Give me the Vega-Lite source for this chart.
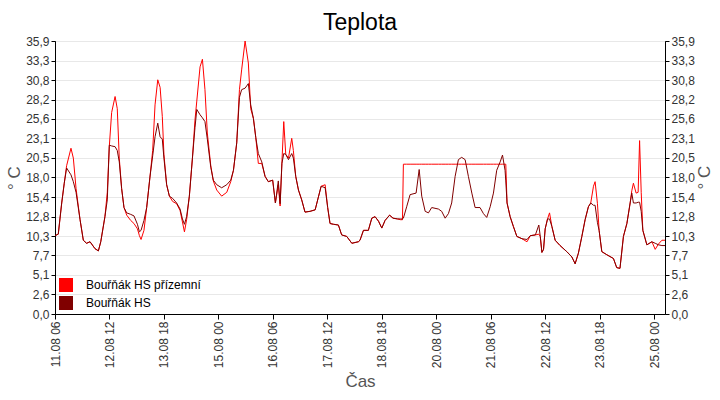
{
  "$schema": "https://vega.github.io/schema/vega-lite/v6.json",
  "autosize": {"type": "none"},
  "width": 610,
  "height": 273,
  "padding": {"left": 55, "top": 41, "right": 55, "bottom": 86},
  "background": "white",
  "config": {
    "view": {"stroke": "black", "strokeWidth": 1},
    "font": "Liberation Sans",
    "axis": {
      "domainColor": "black",
      "tickColor": "black",
      "tickSize": 4,
      "labelColor": "#333333",
      "labelFont": "Liberation Sans",
      "labelFontSize": 12,
      "titleFont": "Liberation Sans",
      "titleFontSize": 17,
      "titleFontWeight": "normal",
      "titleColor": "#555555",
      "gridColor": "#e8e8e8"
    },
    "legend": {
      "labelFont": "Liberation Sans",
      "labelFontSize": 12,
      "labelColor": "black"
    }
  },
  "title": {
    "text": "Teplota",
    "fontSize": 23,
    "fontWeight": "normal",
    "font": "Liberation Sans",
    "color": "black",
    "anchor": "middle",
    "offset": 0
  },
  "data": {
    "values": [
      {"t": "2023-08-11T06:00", "p": 10.3, "h": 10.3},
      {"t": "2023-08-11T07:48", "p": 10.5, "h": 10.5},
      {"t": "2023-08-11T09:42", "p": 14.6, "h": 14.6},
      {"t": "2023-08-11T11:06", "p": 17.2, "h": 17.2},
      {"t": "2023-08-11T12:24", "p": 19.5, "h": 19.2},
      {"t": "2023-08-11T14:48", "p": 21.8, "h": 18.3},
      {"t": "2023-08-11T16:06", "p": 20.5, "h": 17.4},
      {"t": "2023-08-11T17:36", "p": 16.5, "h": 16.0},
      {"t": "2023-08-11T19:48", "p": 12.4, "h": 12.4},
      {"t": "2023-08-11T21:36", "p": 9.7, "h": 9.7},
      {"t": "2023-08-11T23:24", "p": 9.3, "h": 9.3},
      {"t": "2023-08-12T01:18", "p": 9.5, "h": 9.5},
      {"t": "2023-08-12T04:00", "p": 8.6, "h": 8.6},
      {"t": "2023-08-12T05:54", "p": 8.3, "h": 8.3},
      {"t": "2023-08-12T07:12", "p": 9.5, "h": 9.5},
      {"t": "2023-08-12T09:30", "p": 12.8, "h": 12.8},
      {"t": "2023-08-12T10:48", "p": 16.0, "h": 15.0},
      {"t": "2023-08-12T11:54", "p": 22.0, "h": 22.2},
      {"t": "2023-08-12T13:12", "p": 26.5, "h": 22.1},
      {"t": "2023-08-12T15:06", "p": 28.6, "h": 22.0},
      {"t": "2023-08-12T16:18", "p": 27.0, "h": 21.5},
      {"t": "2023-08-12T17:24", "p": 20.5, "h": 20.0},
      {"t": "2023-08-12T18:42", "p": 16.5, "h": 16.5},
      {"t": "2023-08-12T20:00", "p": 14.0, "h": 14.0},
      {"t": "2023-08-12T21:30", "p": 13.0, "h": 13.3},
      {"t": "2023-08-12T23:42", "p": 12.3, "h": 13.1},
      {"t": "2023-08-13T01:30", "p": 11.9, "h": 12.9},
      {"t": "2023-08-13T03:24", "p": 11.2, "h": 11.8},
      {"t": "2023-08-13T04:30", "p": 10.3, "h": 10.8},
      {"t": "2023-08-13T05:24", "p": 9.8, "h": 11.0},
      {"t": "2023-08-13T07:00", "p": 11.0, "h": 12.3},
      {"t": "2023-08-13T08:30", "p": 14.0, "h": 14.0},
      {"t": "2023-08-13T10:18", "p": 18.0, "h": 18.0},
      {"t": "2023-08-13T11:48", "p": 21.5, "h": 20.8},
      {"t": "2023-08-13T13:06", "p": 27.5, "h": 23.3},
      {"t": "2023-08-13T14:36", "p": 30.8, "h": 25.1},
      {"t": "2023-08-13T15:54", "p": 29.8, "h": 23.3},
      {"t": "2023-08-13T17:06", "p": 26.0, "h": 23.0},
      {"t": "2023-08-13T18:00", "p": 21.0, "h": 20.5},
      {"t": "2023-08-13T19:30", "p": 17.0, "h": 17.0},
      {"t": "2023-08-13T21:00", "p": 15.5, "h": 15.5},
      {"t": "2023-08-13T22:48", "p": 14.8, "h": 15.2},
      {"t": "2023-08-14T01:00", "p": 14.5, "h": 14.6},
      {"t": "2023-08-14T02:54", "p": 13.6, "h": 13.8},
      {"t": "2023-08-14T04:12", "p": 12.1, "h": 12.5},
      {"t": "2023-08-14T05:18", "p": 10.8, "h": 11.8},
      {"t": "2023-08-14T06:30", "p": 12.4, "h": 12.8},
      {"t": "2023-08-14T08:00", "p": 15.5, "h": 15.5},
      {"t": "2023-08-14T09:42", "p": 20.5, "h": 20.5},
      {"t": "2023-08-14T11:06", "p": 25.5, "h": 24.5},
      {"t": "2023-08-14T12:06", "p": 28.0, "h": 26.9},
      {"t": "2023-08-14T13:54", "p": 32.5, "h": 26.2},
      {"t": "2023-08-14T15:12", "p": 33.5, "h": 25.8},
      {"t": "2023-08-14T16:36", "p": 29.5, "h": 25.3},
      {"t": "2023-08-14T17:54", "p": 23.8, "h": 23.0},
      {"t": "2023-08-14T19:48", "p": 19.5, "h": 19.3},
      {"t": "2023-08-14T21:12", "p": 17.5, "h": 17.6},
      {"t": "2023-08-14T23:06", "p": 16.3, "h": 17.0},
      {"t": "2023-08-15T01:48", "p": 15.5, "h": 16.6},
      {"t": "2023-08-15T04:36", "p": 16.0, "h": 17.0},
      {"t": "2023-08-15T06:48", "p": 17.4, "h": 17.6},
      {"t": "2023-08-15T08:18", "p": 18.9, "h": 18.9},
      {"t": "2023-08-15T10:06", "p": 22.5, "h": 22.5},
      {"t": "2023-08-15T11:36", "p": 29.5, "h": 28.5},
      {"t": "2023-08-15T12:48", "p": 32.1, "h": 29.5},
      {"t": "2023-08-15T14:42", "p": 35.9, "h": 29.7},
      {"t": "2023-08-15T16:30", "p": 33.0, "h": 30.3},
      {"t": "2023-08-15T17:48", "p": 27.0, "h": 27.5},
      {"t": "2023-08-15T19:18", "p": 25.7, "h": 25.7},
      {"t": "2023-08-15T20:36", "p": 23.2, "h": 23.2},
      {"t": "2023-08-15T22:00", "p": 19.8, "h": 21.1},
      {"t": "2023-08-15T23:54", "p": 19.8, "h": 20.0},
      {"t": "2023-08-16T01:42", "p": 18.1, "h": 18.1},
      {"t": "2023-08-16T03:30", "p": 17.4, "h": 17.4},
      {"t": "2023-08-16T05:54", "p": 17.6, "h": 17.6},
      {"t": "2023-08-16T07:24", "p": 14.6, "h": 14.6},
      {"t": "2023-08-16T09:00", "p": 17.0, "h": 17.5},
      {"t": "2023-08-16T10:00", "p": 14.2, "h": 14.5},
      {"t": "2023-08-16T11:00", "p": 20.0, "h": 19.8},
      {"t": "2023-08-16T12:00", "p": 25.3, "h": 21.1},
      {"t": "2023-08-16T13:06", "p": 21.0, "h": 21.0},
      {"t": "2023-08-16T14:36", "p": 20.5, "h": 20.3},
      {"t": "2023-08-16T16:24", "p": 23.1, "h": 21.1},
      {"t": "2023-08-16T17:18", "p": 21.5, "h": 20.5},
      {"t": "2023-08-16T18:36", "p": 18.1, "h": 18.1},
      {"t": "2023-08-16T20:06", "p": 16.3, "h": 16.3},
      {"t": "2023-08-16T21:54", "p": 15.0, "h": 15.0},
      {"t": "2023-08-16T23:42", "p": 13.4, "h": 13.4},
      {"t": "2023-08-17T02:30", "p": 13.5, "h": 13.5},
      {"t": "2023-08-17T05:18", "p": 13.7, "h": 13.7},
      {"t": "2023-08-17T07:06", "p": 15.4, "h": 15.4},
      {"t": "2023-08-17T08:36", "p": 16.8, "h": 16.8},
      {"t": "2023-08-17T10:48", "p": 17.0, "h": 16.6},
      {"t": "2023-08-17T12:12", "p": 14.0, "h": 14.0},
      {"t": "2023-08-17T13:30", "p": 11.9, "h": 11.9},
      {"t": "2023-08-17T15:24", "p": 11.8, "h": 11.8},
      {"t": "2023-08-17T18:06", "p": 11.7, "h": 11.7},
      {"t": "2023-08-17T19:54", "p": 10.4, "h": 10.4},
      {"t": "2023-08-17T22:42", "p": 10.2, "h": 10.2},
      {"t": "2023-08-18T01:30", "p": 9.3, "h": 9.3},
      {"t": "2023-08-18T05:06", "p": 9.5, "h": 9.5},
      {"t": "2023-08-18T06:00", "p": 9.7, "h": 9.7},
      {"t": "2023-08-18T07:54", "p": 11.0, "h": 11.0},
      {"t": "2023-08-18T10:36", "p": 11.0, "h": 11.0},
      {"t": "2023-08-18T12:30", "p": 12.6, "h": 12.6},
      {"t": "2023-08-18T14:18", "p": 12.8, "h": 12.8},
      {"t": "2023-08-18T16:12", "p": 12.2, "h": 12.2},
      {"t": "2023-08-18T18:00", "p": 11.3, "h": 11.3},
      {"t": "2023-08-18T19:48", "p": 12.3, "h": 12.3},
      {"t": "2023-08-18T22:18", "p": 13.0, "h": 13.0},
      {"t": "2023-08-19T00:12", "p": 12.6, "h": 12.6},
      {"t": "2023-08-19T02:42", "p": 12.5, "h": 12.5},
      {"t": "2023-08-19T04:24", "p": 12.4, "h": 12.5},
      {"t": "2023-08-19T05:24", "p": 12.4, "h": 12.5},
      {"t": "2023-08-19T05:54", "p": 19.7, "h": 12.6},
      {"t": "2023-08-19T07:42", "p": 19.7, "h": 14.1},
      {"t": "2023-08-19T09:36", "p": 19.7, "h": 15.7},
      {"t": "2023-08-19T12:54", "p": 19.7, "h": 15.9},
      {"t": "2023-08-19T14:36", "p": 19.7, "h": 19.0},
      {"t": "2023-08-19T16:00", "p": 19.7, "h": 15.5},
      {"t": "2023-08-19T17:54", "p": 19.7, "h": 13.5},
      {"t": "2023-08-19T19:42", "p": 19.7, "h": 13.3},
      {"t": "2023-08-19T21:30", "p": 19.7, "h": 14.0},
      {"t": "2023-08-20T01:12", "p": 19.7, "h": 13.8},
      {"t": "2023-08-20T03:00", "p": 19.7, "h": 13.5},
      {"t": "2023-08-20T04:54", "p": 19.7, "h": 12.6},
      {"t": "2023-08-20T06:42", "p": 19.7, "h": 13.2},
      {"t": "2023-08-20T08:30", "p": 19.7, "h": 14.6},
      {"t": "2023-08-20T10:24", "p": 19.7, "h": 18.1},
      {"t": "2023-08-20T12:12", "p": 19.7, "h": 20.3},
      {"t": "2023-08-20T14:00", "p": 19.7, "h": 20.6},
      {"t": "2023-08-20T15:54", "p": 19.7, "h": 20.3},
      {"t": "2023-08-20T17:42", "p": 19.7, "h": 18.1},
      {"t": "2023-08-20T19:36", "p": 19.7, "h": 15.9},
      {"t": "2023-08-20T21:24", "p": 19.7, "h": 14.0},
      {"t": "2023-08-21T00:06", "p": 19.7, "h": 14.0},
      {"t": "2023-08-21T02:00", "p": 19.7, "h": 13.2},
      {"t": "2023-08-21T03:48", "p": 19.7, "h": 12.7},
      {"t": "2023-08-21T05:42", "p": 19.7, "h": 14.1},
      {"t": "2023-08-21T07:30", "p": 19.7, "h": 15.9},
      {"t": "2023-08-21T09:18", "p": 19.7, "h": 18.9},
      {"t": "2023-08-21T11:12", "p": 19.7, "h": 20.0},
      {"t": "2023-08-21T12:30", "p": 19.7, "h": 20.9},
      {"t": "2023-08-21T13:54", "p": 19.7, "h": 18.9},
      {"t": "2023-08-21T14:18", "p": 19.7, "h": 17.5},
      {"t": "2023-08-21T15:00", "p": 14.6, "h": 14.6},
      {"t": "2023-08-21T16:42", "p": 12.8, "h": 12.8},
      {"t": "2023-08-21T18:30", "p": 11.5, "h": 11.5},
      {"t": "2023-08-21T20:24", "p": 10.2, "h": 10.2},
      {"t": "2023-08-21T23:12", "p": 9.9, "h": 9.9},
      {"t": "2023-08-22T02:00", "p": 9.5, "h": 9.8},
      {"t": "2023-08-22T03:48", "p": 10.3, "h": 10.3},
      {"t": "2023-08-22T06:36", "p": 10.4, "h": 10.4},
      {"t": "2023-08-22T08:30", "p": 10.5, "h": 11.7},
      {"t": "2023-08-22T09:18", "p": 10.2, "h": 10.2},
      {"t": "2023-08-22T10:12", "p": 8.1, "h": 8.1},
      {"t": "2023-08-22T11:06", "p": 8.5, "h": 8.5},
      {"t": "2023-08-22T12:00", "p": 11.2, "h": 11.2},
      {"t": "2023-08-22T13:18", "p": 12.5, "h": 12.5},
      {"t": "2023-08-22T14:24", "p": 13.3, "h": 12.5},
      {"t": "2023-08-22T15:42", "p": 11.5, "h": 11.5},
      {"t": "2023-08-22T17:30", "p": 9.7, "h": 9.7},
      {"t": "2023-08-22T20:12", "p": 9.0, "h": 9.0},
      {"t": "2023-08-22T23:54", "p": 8.2, "h": 8.2},
      {"t": "2023-08-23T02:42", "p": 7.5, "h": 7.5},
      {"t": "2023-08-23T04:30", "p": 6.6, "h": 6.6},
      {"t": "2023-08-23T06:18", "p": 8.0, "h": 8.0},
      {"t": "2023-08-23T08:12", "p": 10.2, "h": 10.2},
      {"t": "2023-08-23T10:00", "p": 12.4, "h": 12.4},
      {"t": "2023-08-23T11:48", "p": 14.1, "h": 14.1},
      {"t": "2023-08-23T13:06", "p": 14.6, "h": 14.6},
      {"t": "2023-08-23T14:36", "p": 16.8, "h": 14.3},
      {"t": "2023-08-23T15:30", "p": 17.4, "h": 14.3},
      {"t": "2023-08-23T16:48", "p": 14.5, "h": 12.0},
      {"t": "2023-08-23T17:42", "p": 11.0, "h": 11.0},
      {"t": "2023-08-23T19:12", "p": 8.2, "h": 8.2},
      {"t": "2023-08-23T21:54", "p": 7.8, "h": 7.8},
      {"t": "2023-08-24T01:36", "p": 7.3, "h": 7.3},
      {"t": "2023-08-24T03:24", "p": 6.1, "h": 6.1},
      {"t": "2023-08-24T05:12", "p": 6.0, "h": 6.0},
      {"t": "2023-08-24T07:06", "p": 10.2, "h": 10.2},
      {"t": "2023-08-24T09:00", "p": 11.9, "h": 11.9},
      {"t": "2023-08-24T10:48", "p": 14.6, "h": 14.6},
      {"t": "2023-08-24T11:42", "p": 16.2, "h": 15.9},
      {"t": "2023-08-24T12:36", "p": 17.2, "h": 14.6},
      {"t": "2023-08-24T14:06", "p": 15.9, "h": 14.6},
      {"t": "2023-08-24T15:12", "p": 16.0, "h": 14.7},
      {"t": "2023-08-24T16:00", "p": 22.8, "h": 14.7},
      {"t": "2023-08-24T16:54", "p": 16.0, "h": 13.5},
      {"t": "2023-08-24T17:48", "p": 11.0, "h": 11.0},
      {"t": "2023-08-24T20:00", "p": 9.1, "h": 9.1},
      {"t": "2023-08-24T22:48", "p": 9.5, "h": 9.5},
      {"t": "2023-08-25T00:36", "p": 8.5, "h": 9.3},
      {"t": "2023-08-25T02:24", "p": 9.2, "h": 9.1},
      {"t": "2023-08-25T04:18", "p": 9.7, "h": 9.0},
      {"t": "2023-08-25T06:00", "p": 9.7, "h": 9.0}
    ]
  },
  "transform": [
    {"fold": ["p", "h"], "as": ["k", "v"]}
  ],
  "encoding": {
    "x": {
      "field": "t",
      "type": "temporal",
      "title": "Čas",
      "scale": {
        "domain": [
          {"year": 2023, "month": 8, "date": 11, "hours": 6},
          {"year": 2023, "month": 8, "date": 25, "hours": 6}
        ],
        "nice": false
      },
      "axis": {
        "grid": false,
        "format": "%d.%m %H",
        "labelAngle": -90,
        "tickSize": 5,
        "titlePadding": 6,
        "values": [
          {"year": 2023, "month": 8, "date": 11, "hours": 6},
          {"year": 2023, "month": 8, "date": 12, "hours": 12},
          {"year": 2023, "month": 8, "date": 13, "hours": 18},
          {"year": 2023, "month": 8, "date": 15, "hours": 0},
          {"year": 2023, "month": 8, "date": 16, "hours": 6},
          {"year": 2023, "month": 8, "date": 17, "hours": 12},
          {"year": 2023, "month": 8, "date": 18, "hours": 18},
          {"year": 2023, "month": 8, "date": 20, "hours": 0},
          {"year": 2023, "month": 8, "date": 21, "hours": 6},
          {"year": 2023, "month": 8, "date": 22, "hours": 12},
          {"year": 2023, "month": 8, "date": 23, "hours": 18},
          {"year": 2023, "month": 8, "date": 25, "hours": 0}
        ]
      }
    },
    "color": {
      "field": "k",
      "type": "nominal",
      "scale": {"domain": ["p", "h"], "range": ["#ff0000", "#800000"]},
      "legend": {
        "title": null,
        "orient": "bottom-left",
        "offset": 4,
        "symbolType": "square",
        "symbolSize": 196,
        "symbolStrokeWidth": 0,
        "labelOffset": 13,
        "rowPadding": 4,
        "labelExpr": "datum.value == 'p' ? 'Bouřňák HS přízemní' : 'Bouřňák HS'",
        "encode": {
          "symbols": {
            "update": {
              "fill": {"scale": "color", "field": "value"},
              "strokeWidth": {"value": 0}
            }
          }
        }
      }
    }
  },
  "layer": [
    {
      "transform": [{"filter": "datum.k == 'p'"}],
      "mark": {"type": "line", "strokeWidth": 1, "interpolate": "linear"},
      "encoding": {
        "y": {
          "field": "v",
          "type": "quantitative",
          "title": "° C",
          "scale": {"domain": [0, 35.9], "nice": false, "zero": true},
          "axis": {
            "orient": "right",
            "grid": false,
            "titleAngle": -90,
            "titleBaseline": "top",
            "titleX": 31,
            "titleY": 136,
            "titleAlign": "center",
            "values": [0, 2.5643, 5.1286, 7.6929, 10.2571, 12.8214, 15.3857, 17.9501, 20.5143, 23.0786, 25.6429, 28.2071, 30.7714, 33.3357, 35.9],
            "labelExpr": "replace(format(datum.value, '.1f'), '.', ',')"
          }
        }
      }
    },
    {
      "transform": [{"filter": "datum.k == 'h'"}],
      "mark": {"type": "line", "strokeWidth": 1, "interpolate": "linear"},
      "encoding": {
        "y": {
          "field": "v",
          "type": "quantitative",
          "title": "° C",
          "scale": {"domain": [0, 35.9], "nice": false, "zero": true},
          "axis": {
            "orient": "left",
            "grid": true,
            "titlePadding": 2,
            "values": [0, 2.5643, 5.1286, 7.6929, 10.2571, 12.8214, 15.3857, 17.9501, 20.5143, 23.0786, 25.6429, 28.2071, 30.7714, 33.3357, 35.9],
            "labelExpr": "replace(format(datum.value, '.1f'), '.', ',')"
          }
        }
      }
    }
  ],
  "resolve": {"axis": {"y": "independent"}}
}
